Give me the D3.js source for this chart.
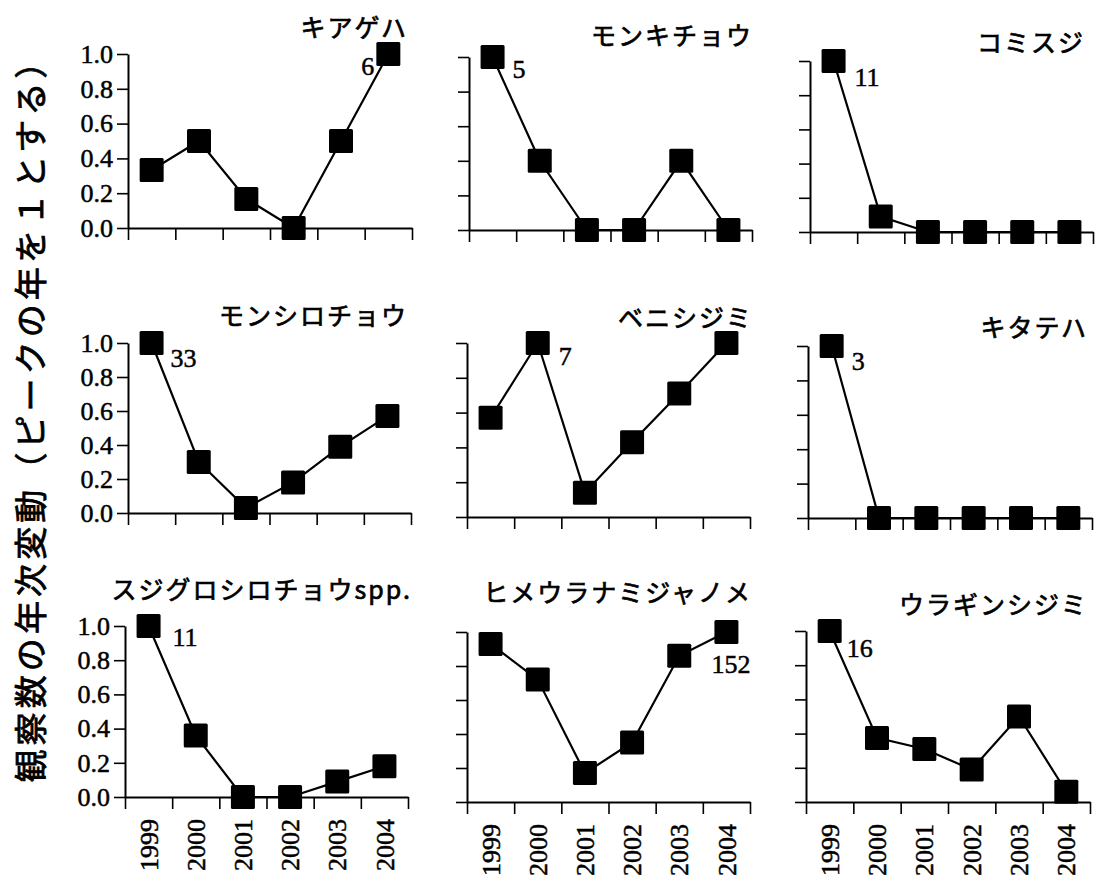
<!DOCTYPE html>
<html>
<head>
<meta charset="utf-8">
<script src="https://cdn.jsdelivr.net/npm/d3@7"></script>
<style>
  html, body { margin: 0; padding: 0; background: #fff; }
  svg { display: block; }
</style>
</head>
<body>
<svg id="chart" width="1099" height="884"></svg>
<script>
// ---------- data ----------
const years = ["1999", "2000", "2001", "2002", "2003", "2004"];
const yTickValues = [0, 0.2, 0.4, 0.6, 0.8, 1.0];
const speciesNames = [
  "キアゲハ", "モンキチョウ", "コミスジ",
  "モンシロチョウ", "ベニシジミ", "キタテハ",
  "スジグロシロチョウspp.", "ヒメウラナミジャノメ", "ウラギンシジミ"
];
const peakCounts = ["6", "5", "11", "33", "7", "3", "11", "152", "16"];
const peakYearIndex = [5, 0, 0, 0, 1, 0, 0, 5, 0];

const kiageha        = [0.333, 0.5, 0.167, 0.0, 0.5, 1.0];
const monkichou      = [1.0, 0.4, 0.0, 0.0, 0.4, 0.0];
const komisuji       = [1.0, 0.09, 0.0, 0.0, 0.0, 0.0];
const monshirochou   = [1.0, 0.30, 0.03, 0.18, 0.39, 0.57];
const benishijimi    = [0.57, 1.0, 0.14, 0.43, 0.71, 1.0];
const kitateha       = [1.0, 0.0, 0.0, 0.0, 0.0, 0.0];
const sujiguro       = [1.0, 0.36, 0.0, 0.0, 0.09, 0.18];
const himeuranami    = [0.93, 0.72, 0.17, 0.35, 0.86, 1.0];
const uraginshijimi  = [1.0, 0.375, 0.31, 0.19, 0.5, 0.06];
const seriesValues = [kiageha, monkichou, komisuji, monshirochou, benishijimi,
                      kitateha, sujiguro, himeuranami, uraginshijimi];

const yAxisTitle = "観察数の年次変動（ピークの年を１とする）";

// ---------- layout (positions only) ----------
const panelBox = [
  {x0: 128, x1: 412, yTop: 54,  yBot: 228, tRight: 408,  tBase: 37},
  {x0: 469, x1: 752, yTop: 57,  yBot: 230, tRight: 753,  tBase: 45},
  {x0: 810, x1: 1093, yTop: 61, yBot: 232, tRight: 1085, tBase: 52},
  {x0: 128, x1: 411, yTop: 343, yBot: 513, tRight: 408,  tBase: 325},
  {x0: 467, x1: 750, yTop: 343, yBot: 517, tRight: 753,  tBase: 327},
  {x0: 808, x1: 1092, yTop: 346, yBot: 518, tRight: 1088, tBase: 337},
  {x0: 125, x1: 408, yTop: 626, yBot: 797, tRight: 412,  tBase: 599},
  {x0: 467, x1: 750, yTop: 632, yBot: 802, tRight: 752,  tBase: 602},
  {x0: 806, x1: 1090, yTop: 631, yBot: 802, tRight: 1088, tBase: 614}
];
// peak label placement: offset from marker centre, and anchor
const peakLabelPos = [
  {dx: -14, dy: 21, anchor: "end"},
  {dx: 20, dy: 21, anchor: "start"},
  {dx: 21, dy: 25, anchor: "start"},
  {dx: 19, dy: 24, anchor: "start"},
  {dx: 21, dy: 22, anchor: "start"},
  {dx: 20, dy: 24, anchor: "start"},
  {dx: 24, dy: 20, anchor: "start"},
  {dx: 24, dy: 41, anchor: "end"},
  {dx: 17, dy: 26, anchor: "start"}
];

const serif = "'Liberation Serif', 'Times New Roman', serif";
const gothic = "'Noto Sans CJK JP', 'Noto Sans', sans-serif";
const markerSize = 24;

const svg = d3.select("#chart");

function heavy(sel, w) {
  return sel.attr("fill", "#000").attr("stroke", "#000")
    .attr("stroke-width", w).attr("paint-order", "stroke");
}

seriesValues.forEach((vals, i) => {
  const b = panelBox[i];
  const col = i % 3, row = Math.floor(i / 3);
  const g = svg.append("g");

  const xBand = d3.scaleBand().domain(years).range([b.x0, b.x1]).padding(0);
  const xEdge = d3.scaleLinear().domain([0, years.length]).range([b.x0, b.x1]);
  const y = d3.scaleLinear().domain([0, 1]).range([b.yBot, b.yTop]);

  // x axis (ticks at category boundaries)
  const xAxis = g.append("g")
    .attr("transform", `translate(0,${b.yBot})`)
    .call(d3.axisBottom(xEdge).tickValues(d3.range(years.length + 1))
      .tickSize(12).tickSizeOuter(0).tickFormat(""));
  // y axis
  const yAxis = g.append("g")
    .attr("transform", `translate(${b.x0},0)`)
    .call(d3.axisLeft(y).tickValues(yTickValues).tickSize(11).tickSizeOuter(0)
      .tickPadding(4)
      .tickFormat(col === 0 ? d3.format(".1f") : () => ""));
  [xAxis, yAxis].forEach(a => {
    a.attr("font-family", null).attr("font-size", null);
    a.select(".domain").attr("stroke", "#000").attr("stroke-width", 2);
    a.selectAll(".tick line").attr("stroke", "#000").attr("stroke-width", 1.6);
  });
  heavy(yAxis.selectAll(".tick text"), 0.5)
    .style("font-family", serif).style("font-size", "26px");

  // year labels on bottom row
  if (row === 2) {
    heavy(g.selectAll(".yr").data(years).enter().append("text")
      .attr("transform", d => `translate(${xBand(d) + xBand.bandwidth() / 2},${b.yBot + 22}) rotate(-90)`)
      .attr("text-anchor", "end")
      .attr("dy", "0.35em")
      .style("font-family", serif).style("font-size", "26px")
      .text(d => d), 0.5);
  }

  // line
  const line = d3.line()
    .x((d, k) => xBand(years[k]) + xBand.bandwidth() / 2)
    .y(d => y(d));
  g.append("path").datum(vals)
    .attr("d", line).attr("fill", "none")
    .attr("stroke", "#000").attr("stroke-width", 2.2);

  // markers
  g.selectAll(".m").data(vals).enter().append("rect")
    .attr("x", (d, k) => xBand(years[k]) + xBand.bandwidth() / 2 - markerSize / 2)
    .attr("y", d => y(d) - markerSize / 2)
    .attr("width", markerSize).attr("height", markerSize)
    .attr("rx", 1.5)
    .attr("fill", "#000");

  // peak count label
  const pk = peakYearIndex[i];
  const lp = peakLabelPos[i];
  heavy(g.append("text")
    .attr("x", xBand(years[pk]) + xBand.bandwidth() / 2 + lp.dx)
    .attr("y", y(vals[pk]) + lp.dy)
    .attr("text-anchor", lp.anchor)
    .style("font-family", serif).style("font-size", "26px")
    .text(peakCounts[i]), 0.5);

  // title
  heavy(g.append("text")
    .attr("x", b.tRight)
    .attr("y", b.tBase)
    .attr("text-anchor", "end")
    .style("font-family", gothic).style("font-size", "25px")
    .style("letter-spacing", "2px")
    .text(speciesNames[i]), 0.7);
});

// shared y-axis title
heavy(svg.append("text")
  .attr("transform", "translate(29,414) rotate(-90)")
  .attr("text-anchor", "middle")
  .attr("dominant-baseline", "central")
  .attr("textLength", 737)
  .attr("lengthAdjust", "spacing")
  .style("font-family", gothic).style("font-size", "33px")
  .text(yAxisTitle), 0.8);
</script>
</body>
</html>
